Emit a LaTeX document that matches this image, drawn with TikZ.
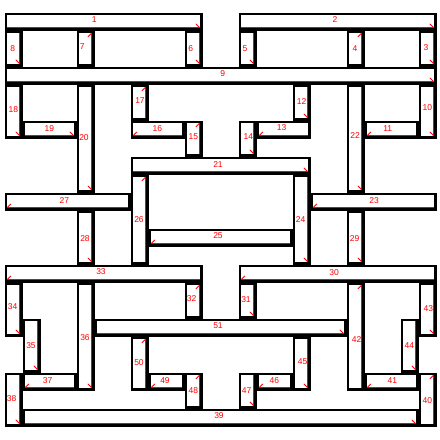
\documentclass[tikz,border=0pt]{standalone}
\usepackage{fontspec}
\setmainfont{Liberation Sans}
\tikzset{
  redline/.style={draw=red, line width=1pt},
  redtick/.style={draw=red, line width=0.9pt},
  lab/.style={text=red, inner sep=0pt, font=\fontsize{8.5}{9}\selectfont}
}
\newcommand\barbase[4]{%
  \pgfmathsetmacro\xl{4.67+18*#1}\pgfmathsetmacro\xr{4.67+18*(#1+#3)}%
  \pgfmathsetmacro\yt{12.67+18*#2}\pgfmathsetmacro\yb{12.67+18*(#2+#4)}%
  \fill[black] (\xl,\yt) rectangle (\xr,\yb);
  \fill[white] ({\xl+2.2},{\yt+2.2}) rectangle ({\xr-2.2},{\yb-2.2});
}
\newcommand\tkBR{\draw[redtick] ({\xr-6.8},{\yb-6.8}) -- ({\xr-3.4},{\yb-3.4});}
\newcommand\tkTR{\draw[redtick] ({\xr-6.8},{\yt+6.2}) -- ({\xr-3.4},{\yt+2.8});}
\newcommand\tkBL{\draw[redtick] ({\xl+6.2},{\yb-6.8}) -- ({\xl+2.8},{\yb-3.4});}
\newcommand\barH[8]{\barbase{#1}{#2}{#3}{#4}%
  \draw[redline] ({\xl+2.2},{\yb-2.7}) -- ({\xr-2.2},{\yb-2.7});
  #5\node[lab] (l#6) at (#7,#8) {#6};}
\newcommand\barV[8]{\barbase{#1}{#2}{#3}{#4}%
  \draw[redline] ({\xr-2.7},{\yt+2.2}) -- ({\xr-2.7},{\yb-2.2});
  #5\node[lab] (l#6) at (#7,#8) {#6};}
\begin{document}
\begin{tikzpicture}[x=1pt,y=-1pt]
\useasboundingbox (0,0) rectangle (440,440);
\fill[white] (0,0) rectangle (440,440);
\barH{0}{0}{11}{1}{\tkBR}{1}{94.3}{20}
\barH{13}{0}{11}{1}{\tkBR}{2}{335}{20}
\barV{0}{1}{1}{2}{\tkBR}{8}{12.7}{48.3}
\barV{4}{1}{1}{2}{\tkTR}{7}{82.3}{47}
\barV{10}{1}{1}{2}{\tkBR}{6}{190.7}{48.3}
\barV{13}{1}{1}{2}{\tkBR}{5}{245}{48.3}
\barV{19}{1}{1}{2}{\tkTR}{4}{355}{48.3}
\barV{23}{1}{1}{2}{\tkBR}{3}{426}{47.3}
\barH{0}{3}{24}{1}{\tkBR}{9}{222.7}{74}
\barV{0}{4}{1}{3}{\tkBR}{18}{13.3}{110}
\barH{1}{6}{3}{1}{\tkBR}{19}{49.3}{128.7}
\barV{4}{4}{1}{6}{\tkBR}{20}{84}{137.3}
\barV{7}{4}{1}{2}{\tkTR}{17}{140}{100.7}
\barH{7}{6}{3}{1}{\tkBL}{16}{157.3}{128.7}
\barV{10}{6}{1}{2}{\tkTR}{15}{193.3}{136.7}
\barV{16}{4}{1}{2}{\tkBR}{12}{301.7}{102}
\barH{14}{6}{3}{1}{\tkBL}{13}{281.7}{127.7}
\barV{13}{6}{1}{2}{\tkBR}{14}{248.3}{136.7}
\barV{19}{4}{1}{6}{\tkBR}{22}{355}{136}
\barH{20}{6}{3}{1}{\tkBL}{11}{387.7}{128.7}
\barV{23}{4}{1}{3}{\tkBR}{10}{427.3}{107.7}
\barH{7}{8}{10}{1}{\tkBR}{21}{218}{165}
\barH{0}{10}{7}{1}{\tkBL}{27}{64.3}{201}
\barV{7}{9}{1}{5}{\tkTR}{26}{139}{220}
\barV{4}{11}{1}{3}{\tkBR}{28}{85}{238.3}
\barH{8}{12}{8}{1}{\tkBL}{25}{218}{236}
\barV{16}{9}{1}{5}{\tkBR}{24}{300.7}{219.3}
\barH{17}{10}{7}{1}{\tkBL}{23}{374}{201}
\barV{19}{11}{1}{3}{\tkBR}{29}{354.7}{239}
\barH{0}{14}{11}{1}{\tkBL}{33}{101}{272}
\barH{13}{14}{11}{1}{\tkBL}{30}{334}{272.7}
\barV{0}{15}{1}{3}{\tkBR}{34}{12.7}{306.7}
\barV{1}{17}{1}{3}{\tkBR}{35}{31}{346}
\barV{4}{15}{1}{6}{\tkBR}{36}{85}{337.7}
\barV{10}{15}{1}{2}{\tkTR}{32}{191.7}{299}
\barH{5}{17}{14}{1}{\tkBR}{51}{218}{326}
\barH{1}{20}{3}{1}{\tkBL}{37}{47.7}{381}
\barV{7}{18}{1}{3}{\tkTR}{50}{139}{362.7}
\barH{8}{20}{2}{1}{\tkBL}{49}{165}{381}
\barV{10}{20}{1}{2}{\tkTR}{48}{193.3}{391}
\barV{0}{20}{1}{3}{\tkBR}{38}{11.7}{399}
\barH{1}{22}{22}{1}{\tkBR}{39}{219}{416}
\barV{13}{15}{1}{2}{\tkBR}{31}{246}{300}
\barV{19}{15}{1}{6}{\tkTR}{42}{356.7}{339.3}
\barV{23}{15}{1}{3}{\tkBR}{43}{428.3}{309}
\barV{22}{17}{1}{3}{\tkBR}{44}{409.3}{346}
\barV{16}{18}{1}{3}{\tkBR}{45}{302.7}{361.7}
\barH{14}{20}{2}{1}{\tkBL}{46}{274.3}{381}
\barV{13}{20}{1}{2}{\tkBR}{47}{246.7}{391}
\barH{20}{20}{3}{1}{\tkBL}{41}{392.3}{381}
\barV{23}{20}{1}{3}{\tkTR}{40}{427.3}{401}
\end{tikzpicture}
\end{document}
